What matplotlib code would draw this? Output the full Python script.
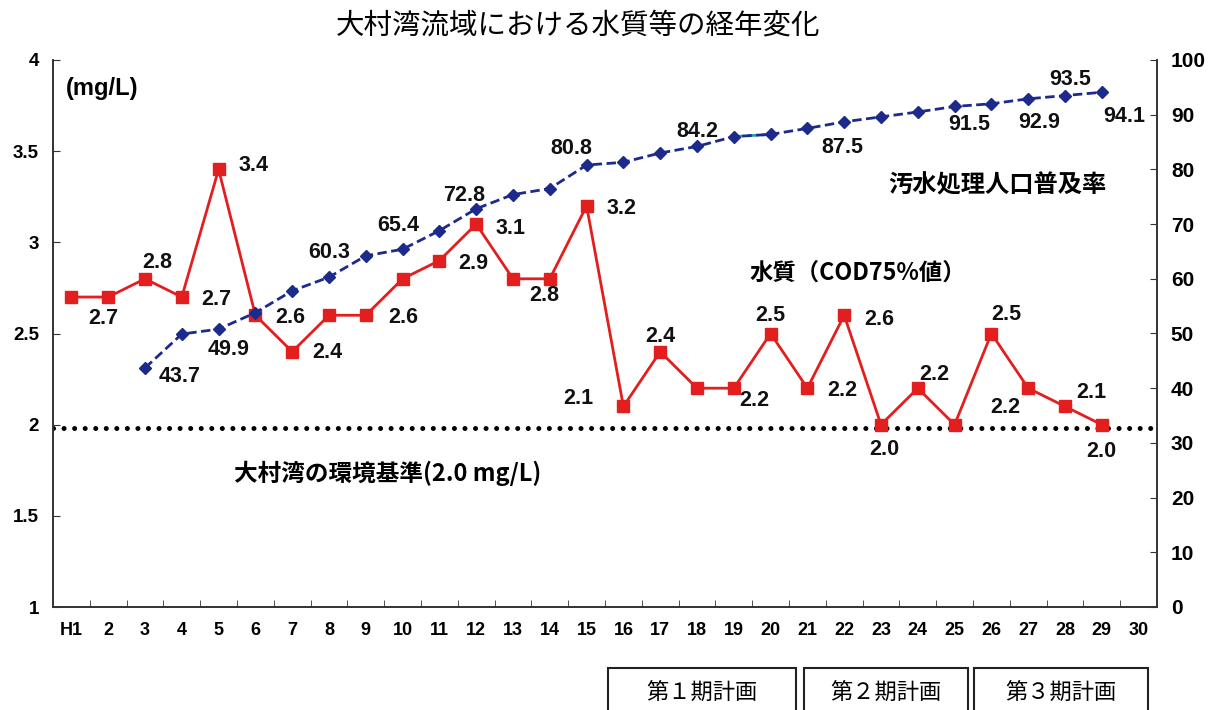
import matplotlib
matplotlib.use('Agg')
import matplotlib.pyplot as plt
from matplotlib.patches import Rectangle

plt.rcParams['font.family'] = ['Liberation Sans', 'Noto Sans CJK JP', 'DejaVu Sans']

# ---- data ----
years = ['H1'] + [str(i) for i in range(2, 31)]
cod = [2.7, 2.7, 2.8, 2.7, 3.4, 2.6, 2.4, 2.6, 2.6, 2.8, 2.9, 3.1, 2.8, 2.8, 3.2,
       2.1, 2.4, 2.2, 2.2, 2.5, 2.2, 2.6, 2.0, 2.2, 2.0, 2.5, 2.2, 2.1, 2.0]
sewer = [None, None, 43.7, 49.9, 50.8, 53.8, 57.8, 60.3, 64.2, 65.4, 68.8, 72.8,
         75.4, 76.5, 80.8, 81.3, 83.0, 84.2, 86.0, 86.4, 87.5, 88.7, 89.6, 90.5,
         91.5, 92.0, 92.9, 93.5, 94.1]
std_cod = 2.0
plans = ['第１期計画', '第２期計画', '第３期計画']

# which points carry a value label, with label offset in pixels (dx, dy)
cod_lbl = {1: (-5, -21), 2: (12, 16), 3: (35, -2), 4: (35, 4), 5: (35, -2), 6: (35, -1),
           8: (37, -2), 10: (34, -3), 11: (34, -4), 13: (-6, -17), 14: (35, -3),
           15: (-45, 8), 16: (0, 15), 18: (21, -12), 19: (0, 18), 20: (35, -2),
           21: (35, -4), 22: (3, -25), 23: (17, 14), 25: (15, 19), 26: (-23, -19),
           27: (26, 14), 28: (0, -27)}
sew_lbl = {2: (35, -9), 3: (47, -15), 7: (0, 25), 9: (-4, 24), 11: (-12, 13),
           14: (-15, 17), 17: (0, 15), 20: (35, -19), 24: (15, -18), 26: (11, -24),
           27: (5, 16), 28: (22, -24)}

W, H = 1223, 710
fig = plt.figure(figsize=(W / 100, H / 100), dpi=100)
fig.patch.set_facecolor('white')

def fx(px):
    return px / W

def fy(py):
    return 1 - py / H

ax = fig.add_axes([fx(53), fy(607), fx(1157) - fx(53), fy(60) - fy(607)])
ax2 = ax.twinx()

xs = list(range(len(cod)))
red = '#e31e1e'
navy = '#1c2a8c'

ax.plot(xs, cod, color=red, lw=2.0, marker='s', ms=8.5, mfc=red, mec=red, zorder=3)
ax.axhline(std_cod - 0.02, color='black', lw=3.6, linestyle=(0, (0.01, 2.1)),
           dash_capstyle='round', zorder=2)

sx = [i for i, v in enumerate(sewer) if v is not None]
sv = [v for v in sewer if v is not None]
ax2.plot(sx, sv, color=navy, lw=2.0, linestyle=(0, (3.4, 1.6)), marker='D', ms=6,
         mfc=navy, mec=navy, zorder=4)
ax2.plot(sx[16:18], sv[16:18], color='#2a9d8f', lw=2.0, linestyle=(0, (3.4, 1.6)), zorder=3)

numfont = dict(fontsize=15.5, fontweight='bold', ha='center', va='center', color='#111111')
for i, (dx, dy) in cod_lbl.items():
    ax.annotate(f'{cod[i]:.1f}', (xs[i], cod[i]), xytext=(dx, dy),
                textcoords='offset pixels', **numfont)
for i, (dx, dy) in sew_lbl.items():
    ax2.annotate(f'{sewer[i]:.1f}', (i, sewer[i]), xytext=(dx, dy),
                 textcoords='offset pixels', **numfont)

ax.set_xlim(-0.5, len(years) - 0.5)
ax.set_ylim(1, 4)
ax2.set_ylim(0, 100)
ax.set_yticks([1, 1.5, 2, 2.5, 3, 3.5, 4])
ax.set_yticklabels(['1', '1.5', '2', '2.5', '3', '3.5', '4'])
ax2.set_yticks(range(0, 101, 10))
ax.set_xticks(range(len(years)))
ax.set_xticklabels(years)
ax.set_xticks([i + 0.5 for i in range(len(years) - 1)], minor=True)

for a in (ax, ax2):
    a.spines['top'].set_visible(False)
    for s in a.spines.values():
        s.set_color('#333333')
        s.set_linewidth(1.2)
ax.tick_params(axis='x', which='major', length=0, pad=11, labelsize=13)
ax.tick_params(axis='x', which='minor', direction='in', length=5, color='#333333')
ax.tick_params(axis='y', direction='in', length=5, pad=10, labelsize=13.5, color='#333333')
ax2.tick_params(axis='y', direction='in', length=5, pad=10, labelsize=15, color='#333333')
for lab in ax.get_xticklabels() + ax.get_yticklabels() + ax2.get_yticklabels():
    lab.set_fontweight('bold')

jp = ['Noto Sans CJK JP', 'DejaVu Sans']
fig.text(fx(578), fy(26), '大村湾流域における水質等の経年変化', fontsize=20.5,
         family=jp, ha='center', va='center')
fig.text(fx(66), fy(89), '(mg/L)', fontsize=17, fontweight='bold', ha='left', va='center')
fig.text(fx(997), fy(185), '汚水処理人口普及率', fontsize=17.5, fontweight='bold',
         family=jp, ha='center', va='center')
fig.text(fx(750), fy(273), '水質（COD75%値）', fontsize=16.8, fontweight='bold',
         family=jp, ha='left', va='center')
fig.text(fx(234), fy(473), '大村湾の環境基準(2.0 mg/L)', fontsize=17, fontweight='bold',
         family=jp, ha='left', va='center')

boxes = [(608, 796), (804, 968), (974, 1148)]
for name, (x0, x1) in zip(plans, boxes):
    fig.patches.append(Rectangle((fx(x0), fy(714)), fx(x1) - fx(x0), fy(668) - fy(714),
                                 transform=fig.transFigure, fill=False,
                                 edgecolor='#222222', lw=1.5))
    fig.text(fx((x0 + x1) / 2), fy(692), name, fontsize=16, family=jp,
             ha='center', va='center')

fig.savefig('out.png', dpi=100)
